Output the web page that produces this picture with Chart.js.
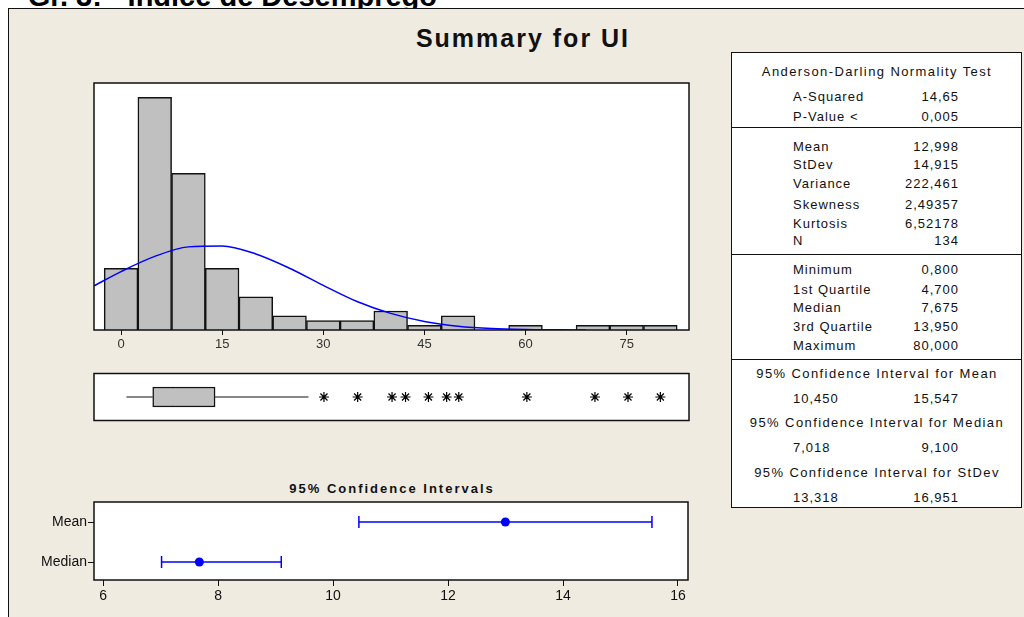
<!DOCTYPE html>
<html>
<head>
<meta charset="utf-8">
<script src="https://cdn.jsdelivr.net/npm/chart.js"></script>
<style>
  body { margin: 0; width: 1024px; height: 617px; overflow: hidden; background: #fff; position: relative;
         font-family: 'Liberation Sans', Arial, sans-serif; }
  #doc { position: absolute; top: -18px; right: 587px; white-space: nowrap; font: bold 29px 'Liberation Sans', Arial; line-height: 29px; color: #000; }
  #frame { position: absolute; left: 8px; top: 8px; width: 1100px; height: 700px; border-left: 1.5px solid #111; border-top: 1.5px solid #111; background: #EFEBE0; }
  #title { position: absolute; left: 0; width: 1046px; top: 24px; text-align: center; font: bold 25px 'Liberation Sans', Arial; letter-spacing: 2px; color: #111; }
  #ciTitle { position: absolute; left: 0; width: 784px; top: 481px; text-align: center; font: bold 13px 'Liberation Sans', Arial; letter-spacing: 2px; color: #111; }
  .wrap { position: absolute; }
  #stats { position: absolute; left: 731px; top: 52px; width: 289px; height: 454px; border: 1.5px solid #111; background: #fff; }
  .sep { position: absolute; left: 731px; width: 291px; height: 0; border-top: 1.5px solid #111; }
  .t { position: absolute; height: 16px; line-height: 16px; font-size: 13px; letter-spacing: 1px; color: #111; white-space: nowrap; }
</style>
</head>
<body>
<div id="doc">Gr. 3: - Índice de Desemprego</div>
<div id="frame"></div>
<div id="title">Summary for UI</div>
<div class="wrap" style="left:80px;top:75px"><canvas id="hist" width="625" height="285"></canvas></div>
<div class="wrap" style="left:80px;top:362px"><canvas id="box" width="625" height="70"></canvas></div>
<div id="ciTitle">95% Confidence Intervals</div>
<div class="wrap" style="left:10px;top:478px"><canvas id="ci" width="695" height="139"></canvas></div>
<div id="stats"></div>
<div id="table"></div>
<script>
// histogram of UI (bin centres, counts) and fitted normal curve
const binCenters = [0, 5, 10, 15, 20, 25, 30, 35, 40, 45, 50, 55, 60, 65, 70, 75, 80];
const binCounts = [13, 49, 33, 13, 7, 3, 2, 2, 4, 1, 3, 0, 1, 0, 1, 1, 1];
const curveX = [-4, 0, 5, 10, 15, 20, 25, 30, 35, 40, 45, 50, 55, 60, 65, 69];
const curveY = [9.3, 12.3, 15.5, 17.5, 17.7, 16.0, 13.0, 9.4, 6.0, 3.5, 1.8, 0.8, 0.3, 0.1, 0.04, 0];
const histTicks = [0, 15, 30, 45, 60, 75];

// boxplot
const whiskerLow = 0.8, q1 = 4.7, median = 7.675, q3 = 13.95, whiskerHigh = 27.8;
const outliers = [30.1, 35.1, 40.2, 42.2, 45.6, 48.3, 50.1, 60.2, 70.3, 75.2, 80];

// confidence intervals
const ciLabels = ['Mean', 'Median'];
const ciPoint = [12.998, 7.675];
const ciLow = [10.450, 7.018];
const ciHigh = [15.547, 9.100];
const ciTicks = [6, 8, 10, 12, 14, 16];

// summary table
const adLabels = ['A-Squared', 'P-Value <'];
const adValues = ['14,65', '0,005'];
const descLabels = ['Mean', 'StDev', 'Variance', 'Skewness', 'Kurtosis', 'N'];
const descValues = ['12,998', '14,915', '222,461', '2,49357', '6,52178', '134'];
const quartLabels = ['Minimum', '1st Quartile', 'Median', '3rd Quartile', 'Maximum'];
const quartValues = ['0,800', '4,700', '7,675', '13,950', '80,000'];
const ciTitles = ['95% Confidence Interval for Mean', '95% Confidence Interval for Median', '95% Confidence Interval for StDev'];
const ciTabLow = ['10,450', '7,018', '13,318'];
const ciTabHigh = ['15,547', '9,100', '16,951'];

const blue = '#0000FF';

const plotFrame = {
  id: 'plotFrame',
  beforeDraw(chart) {
    const { ctx, chartArea: a } = chart;
    ctx.save();
    ctx.fillStyle = '#fff';
    ctx.fillRect(a.left, a.top, a.width, a.height);
    ctx.restore();
  },
  afterDraw(chart) {
    const { ctx, chartArea: a } = chart;
    ctx.save();
    ctx.strokeStyle = '#111';
    ctx.lineWidth = 1.5;
    ctx.strokeRect(a.left, a.top, a.width, a.height);
    ctx.restore();
  }
};

const base = {
  responsive: false,
  animation: false,
  events: [],
  plugins: { legend: { display: false }, tooltip: { enabled: false } }
};

new Chart(document.getElementById('hist'), {
  type: 'bar',
  data: {
    datasets: [
      {
        type: 'line',
        data: curveX.map((x, i) => ({ x, y: curveY[i] })),
        borderColor: blue,
        borderWidth: 1.5,
        pointRadius: 0,
        cubicInterpolationMode: 'monotone'
      },
      {
        type: 'bar',
        data: binCenters.map((x, i) => ({ x, y: binCounts[i] })),
        backgroundColor: '#C0C0C0',
        borderColor: '#111',
        borderWidth: 1.5,
        barPercentage: 1,
        categoryPercentage: 1
      }
    ]
  },
  options: {
    ...base,
    layout: { padding: { left: 14, right: 16, top: 8, bottom: 0 } },
    scales: {
      x: {
        type: 'linear', min: -4.01, max: 84.25, offset: false,
        afterBuildTicks: s => { s.ticks = histTicks.map(v => ({ value: v })); },
        afterFit: s => { s.height = 30; },
        grid: { drawOnChartArea: false, tickLength: 5, color: '#111', offset: false },
        border: { display: false },
        ticks: { color: '#333', font: { family: 'Liberation Sans', size: 13 }, padding: 2, maxRotation: 0 }
      },
      y: { type: 'linear', min: 0, max: 52, display: false }
    }
  },
  plugins: [plotFrame]
});

new Chart(document.getElementById('box'), {
  type: 'scatter',
  data: {
    datasets: [
      {
        type: 'line', data: [{ x: whiskerLow, y: 0 }, { x: q1, y: 0 }],
        borderColor: '#111', borderWidth: 1, pointRadius: 0
      },
      {
        type: 'line', data: [{ x: q3, y: 0 }, { x: whiskerHigh, y: 0 }],
        borderColor: '#111', borderWidth: 1, pointRadius: 0
      },
      {
        type: 'bar', indexAxis: 'y', data: [{ x: [q1, q3], y: 0 }],
        backgroundColor: '#C0C0C0', borderColor: '#111', borderWidth: 1.5, borderSkipped: false, barThickness: 20
      },
      {
        type: 'scatter', data: [{ x: median, y: 0 }],
        pointStyle: 'line', rotation: 90, radius: 10, borderColor: '#111', borderWidth: 1.5
      },
      {
        type: 'scatter', data: outliers.map(x => ({ x, y: 0 })),
        pointStyle: 'star', radius: 5, borderColor: '#000', borderWidth: 1.2
      }
    ]
  },
  options: {
    ...base,
    layout: { padding: { left: 14, right: 16, top: 8, bottom: 8 } },
    scales: {
      x: { type: 'linear', min: -4.01, max: 84.25, display: false },
      y: { type: 'linear', min: -1, max: 1, display: false }
    }
  },
  plugins: [plotFrame]
});

const rowY = ciLabels.map((_, i) => ciLabels.length - 1 - i);
const narrow = { family: "'Liberation Sans Narrow', 'Liberation Sans', Arial", size: 14 };

new Chart(document.getElementById('ci'), {
  type: 'scatter',
  data: {
    datasets: [
      ...ciLabels.map((_, i) => ({
        type: 'line',
        data: [{ x: ciLow[i], y: rowY[i] }, { x: ciHigh[i], y: rowY[i] }],
        borderColor: blue, borderWidth: 1.5,
        pointStyle: 'line', pointRotation: 90, pointRadius: 6,
        pointBorderColor: blue, pointBorderWidth: 1.5
      })),
      {
        type: 'scatter',
        data: ciPoint.map((x, i) => ({ x, y: rowY[i] })),
        pointStyle: 'circle', radius: 4.5, backgroundColor: blue, borderColor: blue, borderWidth: 0
      }
    ]
  },
  options: {
    ...base,
    layout: { padding: { left: 0, right: 17, top: 24, bottom: 0 } },
    scales: {
      x: {
        type: 'linear', min: 5.843, max: 16.174,
        afterBuildTicks: s => { s.ticks = ciTicks.map(v => ({ value: v })); },
        afterFit: s => { s.height = 37; },
        grid: { drawOnChartArea: false, tickLength: 6, color: '#111' },
        border: { display: false },
        ticks: { color: '#111', font: narrow, padding: 2, maxRotation: 0 }
      },
      y: {
        type: 'linear', min: -0.45, max: 1.5,
        afterBuildTicks: s => { s.ticks = rowY.map(v => ({ value: v })); },
        afterFit: s => { s.width = 84; },
        grid: { drawOnChartArea: false, tickLength: 6, color: '#111' },
        border: { display: false },
        ticks: {
          color: '#111', font: narrow, padding: 1,
          callback: v => ciLabels[ciLabels.length - 1 - v]
        }
      }
    }
  },
  plugins: [plotFrame]
});

// summary table text
const table = document.getElementById('table');
const put = (text, y, style) => {
  const d = document.createElement('div');
  d.className = 't';
  d.textContent = text;
  d.style.top = (y - 8) + 'px';
  Object.assign(d.style, style);
  table.appendChild(d);
};
const centred = { left: '731px', width: '292px', textAlign: 'center', letterSpacing: '1.4px' };
const label = { left: '793px' };
const value = { left: '838px', width: '121px', textAlign: 'right' };

put('Anderson-Darling Normality Test', 72, centred);
const adY = [97, 117];
adLabels.forEach((l, i) => { put(l, adY[i], label); put(adValues[i], adY[i], value); });
const descY = [147, 165, 184, 205, 224, 241];
descLabels.forEach((l, i) => { put(l, descY[i], label); put(descValues[i], descY[i], value); });
const quartY = [270, 290, 308, 327, 346];
quartLabels.forEach((l, i) => { put(l, quartY[i], label); put(quartValues[i], quartY[i], value); });
const ciTitleY = [374, 423, 473], ciValY = [399, 448, 498];
ciTitles.forEach((t, i) => {
  put(t, ciTitleY[i], centred);
  put(ciTabLow[i], ciValY[i], label);
  put(ciTabHigh[i], ciValY[i], value);
});
[127, 254, 359].forEach(y => {
  const s = document.createElement('div');
  s.className = 'sep';
  s.style.top = y + 'px';
  table.appendChild(s);
});
</script>
</body>
</html>
